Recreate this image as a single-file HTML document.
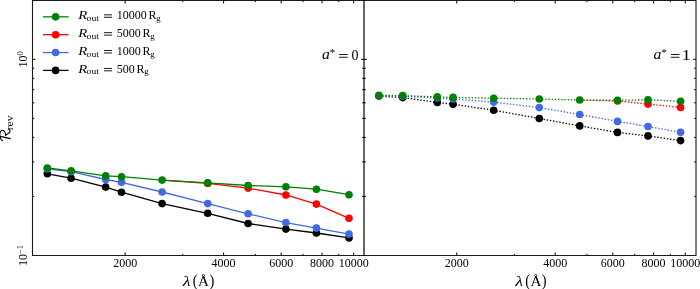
<!DOCTYPE html><html><head><meta charset="utf-8"><style>html,body{margin:0;padding:0;background:#fff;width:700px;height:289px;overflow:hidden}svg{display:block}text{font-family:"Liberation Serif",serif;fill:#000}</style></head><body>
<svg width="700" height="289" viewBox="0 0 700 289" style="will-change:transform">
<rect width="700" height="289" fill="#fff"/>
<polyline points="47.30,173.80 71.10,178.20 105.70,187.10 121.50,192.20 162.10,203.60 207.70,213.30 248.10,223.50 285.90,229.10 316.40,233.00 349.00,237.90" fill="none" stroke="#000000" stroke-width="1.3"/>
<circle cx="47.30" cy="173.80" r="3.8" fill="#000000"/>
<circle cx="71.10" cy="178.20" r="3.8" fill="#000000"/>
<circle cx="105.70" cy="187.10" r="3.8" fill="#000000"/>
<circle cx="121.50" cy="192.20" r="3.8" fill="#000000"/>
<circle cx="162.10" cy="203.60" r="3.8" fill="#000000"/>
<circle cx="207.70" cy="213.30" r="3.8" fill="#000000"/>
<circle cx="248.10" cy="223.50" r="3.8" fill="#000000"/>
<circle cx="285.90" cy="229.10" r="3.8" fill="#000000"/>
<circle cx="316.40" cy="233.00" r="3.8" fill="#000000"/>
<circle cx="349.00" cy="237.90" r="3.8" fill="#000000"/>
<polyline points="47.30,168.90 71.10,171.70 105.70,179.50 121.50,182.30 162.10,192.00 207.70,203.60 248.10,213.80 285.90,222.60 316.40,228.10 349.00,234.10" fill="none" stroke="#4169e1" stroke-width="1.3"/>
<circle cx="47.30" cy="168.90" r="3.8" fill="#4169e1"/>
<circle cx="71.10" cy="171.70" r="3.8" fill="#4169e1"/>
<circle cx="105.70" cy="179.50" r="3.8" fill="#4169e1"/>
<circle cx="121.50" cy="182.30" r="3.8" fill="#4169e1"/>
<circle cx="162.10" cy="192.00" r="3.8" fill="#4169e1"/>
<circle cx="207.70" cy="203.60" r="3.8" fill="#4169e1"/>
<circle cx="248.10" cy="213.80" r="3.8" fill="#4169e1"/>
<circle cx="285.90" cy="222.60" r="3.8" fill="#4169e1"/>
<circle cx="316.40" cy="228.10" r="3.8" fill="#4169e1"/>
<circle cx="349.00" cy="234.10" r="3.8" fill="#4169e1"/>
<polyline points="162.10,180.20 207.70,183.40 248.10,188.10 285.90,195.00 316.40,204.10 349.00,218.30" fill="none" stroke="#ff0000" stroke-width="1.3"/>
<circle cx="207.70" cy="183.40" r="3.8" fill="#ff0000"/>
<circle cx="248.10" cy="188.10" r="3.8" fill="#ff0000"/>
<circle cx="285.90" cy="195.00" r="3.8" fill="#ff0000"/>
<circle cx="316.40" cy="204.10" r="3.8" fill="#ff0000"/>
<circle cx="349.00" cy="218.30" r="3.8" fill="#ff0000"/>
<polyline points="47.30,168.00 71.10,170.80 105.70,175.90 121.50,176.70 162.10,180.10 207.70,182.80 248.10,185.50 285.90,186.80 316.40,189.20 349.00,194.70" fill="none" stroke="#008000" stroke-width="1.3"/>
<circle cx="47.30" cy="168.00" r="3.8" fill="#008000"/>
<circle cx="71.10" cy="170.80" r="3.8" fill="#008000"/>
<circle cx="105.70" cy="175.90" r="3.8" fill="#008000"/>
<circle cx="121.50" cy="176.70" r="3.8" fill="#008000"/>
<circle cx="162.10" cy="180.10" r="3.8" fill="#008000"/>
<circle cx="207.70" cy="182.80" r="3.8" fill="#008000"/>
<circle cx="248.10" cy="185.50" r="3.8" fill="#008000"/>
<circle cx="285.90" cy="186.80" r="3.8" fill="#008000"/>
<circle cx="316.40" cy="189.20" r="3.8" fill="#008000"/>
<circle cx="349.00" cy="194.70" r="3.8" fill="#008000"/>
<polyline points="378.90,96.00 402.70,97.60 437.30,102.40 453.10,104.20 493.70,110.20 539.30,118.50 579.70,125.90 617.50,132.40 648.00,135.90 680.60,140.60" fill="none" stroke="#000000" stroke-width="1.3" stroke-dasharray="1.4 1.8"/>
<circle cx="378.90" cy="96.00" r="3.8" fill="#000000"/>
<circle cx="402.70" cy="97.60" r="3.8" fill="#000000"/>
<circle cx="437.30" cy="102.40" r="3.8" fill="#000000"/>
<circle cx="453.10" cy="104.20" r="3.8" fill="#000000"/>
<circle cx="493.70" cy="110.20" r="3.8" fill="#000000"/>
<circle cx="539.30" cy="118.50" r="3.8" fill="#000000"/>
<circle cx="579.70" cy="125.90" r="3.8" fill="#000000"/>
<circle cx="617.50" cy="132.40" r="3.8" fill="#000000"/>
<circle cx="648.00" cy="135.90" r="3.8" fill="#000000"/>
<circle cx="680.60" cy="140.60" r="3.8" fill="#000000"/>
<polyline points="378.90,95.70 402.70,96.30 437.30,98.00 453.10,99.00 493.70,102.10 539.30,107.60 579.70,114.50 617.50,121.40 648.00,126.50 680.60,132.30" fill="none" stroke="#4169e1" stroke-width="1.3" stroke-dasharray="1.4 1.8"/>
<circle cx="378.90" cy="95.70" r="3.8" fill="#4169e1"/>
<circle cx="402.70" cy="96.30" r="3.8" fill="#4169e1"/>
<circle cx="437.30" cy="98.00" r="3.8" fill="#4169e1"/>
<circle cx="453.10" cy="99.00" r="3.8" fill="#4169e1"/>
<circle cx="493.70" cy="102.10" r="3.8" fill="#4169e1"/>
<circle cx="539.30" cy="107.60" r="3.8" fill="#4169e1"/>
<circle cx="579.70" cy="114.50" r="3.8" fill="#4169e1"/>
<circle cx="617.50" cy="121.40" r="3.8" fill="#4169e1"/>
<circle cx="648.00" cy="126.50" r="3.8" fill="#4169e1"/>
<circle cx="680.60" cy="132.30" r="3.8" fill="#4169e1"/>
<polyline points="579.70,100.00 617.50,101.00 648.00,104.10 680.60,107.40" fill="none" stroke="#ff0000" stroke-width="1.3" stroke-dasharray="1.4 1.8"/>
<circle cx="617.50" cy="101.00" r="3.8" fill="#ff0000"/>
<circle cx="648.00" cy="104.10" r="3.8" fill="#ff0000"/>
<circle cx="680.60" cy="107.40" r="3.8" fill="#ff0000"/>
<polyline points="378.90,95.40 402.70,95.60 437.30,96.90 453.10,97.40 493.70,98.20 539.30,99.00 579.70,100.00 617.50,100.20 648.00,99.90 680.60,101.20" fill="none" stroke="#008000" stroke-width="1.3" stroke-dasharray="1.4 1.8"/>
<circle cx="378.90" cy="95.40" r="3.8" fill="#008000"/>
<circle cx="402.70" cy="95.60" r="3.8" fill="#008000"/>
<circle cx="437.30" cy="96.90" r="3.8" fill="#008000"/>
<circle cx="453.10" cy="97.40" r="3.8" fill="#008000"/>
<circle cx="493.70" cy="98.20" r="3.8" fill="#008000"/>
<circle cx="539.30" cy="99.00" r="3.8" fill="#008000"/>
<circle cx="579.70" cy="100.00" r="3.8" fill="#008000"/>
<circle cx="617.50" cy="100.20" r="3.8" fill="#008000"/>
<circle cx="648.00" cy="99.90" r="3.8" fill="#008000"/>
<circle cx="680.60" cy="101.20" r="3.8" fill="#008000"/>
<path d="M125.15 255.50V252.50M125.15 0.50V3.50M182.73 255.50V253.90M182.73 0.50V2.10M223.59 255.50V252.50M223.59 0.50V3.50M255.28 255.50V253.90M255.28 0.50V2.10M281.17 255.50V252.50M281.17 0.50V3.50M303.06 255.50V253.90M303.06 0.50V2.10M322.02 255.50V252.50M322.02 0.50V3.50M338.75 255.50V253.90M338.75 0.50V2.10M353.71 255.50V252.50M353.71 0.50V3.50M32.50 196.44H34.30M364.00 196.44H362.20M32.50 161.89H34.30M364.00 161.89H362.20M32.50 137.38H34.30M364.00 137.38H362.20M32.50 118.36H34.30M364.00 118.36H362.20M32.50 102.83H34.30M364.00 102.83H362.20M32.50 89.69H34.30M364.00 89.69H362.20M32.50 78.31H34.30M364.00 78.31H362.20M32.50 68.28H34.30M364.00 68.28H362.20M32.50 59.30H35.50M364.00 59.30H361.00M456.75 255.50V252.50M456.75 0.50V3.50M514.33 255.50V253.90M514.33 0.50V2.10M555.19 255.50V252.50M555.19 0.50V3.50M586.88 255.50V253.90M586.88 0.50V2.10M612.77 255.50V252.50M612.77 0.50V3.50M634.66 255.50V253.90M634.66 0.50V2.10M653.62 255.50V252.50M653.62 0.50V3.50M670.35 255.50V253.90M670.35 0.50V2.10M685.31 255.50V252.50M685.31 0.50V3.50M364.00 196.44H365.80M696.00 196.44H694.20M364.00 161.89H365.80M696.00 161.89H694.20M364.00 137.38H365.80M696.00 137.38H694.20M364.00 118.36H365.80M696.00 118.36H694.20M364.00 102.83H365.80M696.00 102.83H694.20M364.00 89.69H365.80M696.00 89.69H694.20M364.00 78.31H365.80M696.00 78.31H694.20M364.00 68.28H365.80M696.00 68.28H694.20M364.00 59.30H367.00M696.00 59.30H693.00" stroke="#000" stroke-width="1" fill="none"/>
<path d="M32.5 0.5H696.0V255.5H32.5Z" stroke="#1a1a1a" stroke-width="1.1" fill="none"/>
<path d="M364.0 0.5V255.5" stroke="#000" stroke-width="1.2" fill="none"/>
<text x="125.15" y="267" font-size="12" text-anchor="middle">2000</text>
<text x="223.59" y="267" font-size="12" text-anchor="middle">4000</text>
<text x="281.17" y="267" font-size="12" text-anchor="middle">6000</text>
<text x="322.02" y="267" font-size="12" text-anchor="middle">8000</text>
<text x="353.71" y="267" font-size="12" text-anchor="middle">10000</text>
<text x="456.75" y="267" font-size="12" text-anchor="middle">2000</text>
<text x="555.19" y="267" font-size="12" text-anchor="middle">4000</text>
<text x="612.77" y="267" font-size="12" text-anchor="middle">6000</text>
<text x="653.62" y="267" font-size="12" text-anchor="middle">8000</text>
<text x="685.31" y="267" font-size="12" text-anchor="middle">10000</text>
<text transform="translate(27.2 59.3) rotate(-90)" font-size="12" text-anchor="middle">10<tspan font-size="8.5" dy="-4.5">0</tspan></text>
<text transform="translate(27.2 255.5) rotate(-90)" font-size="12" text-anchor="middle">10<tspan font-size="8.5" dy="-4.5">&#8722;1</tspan></text>
<text transform="translate(182.80 285.5) scale(1.25 1)" font-size="14.5" font-style="italic">&#955;</text>
<text transform="translate(192.80 285.8) scale(1 1.12)" font-size="14.5">(</text>
<text transform="translate(198.00 285.5) scale(1.05 1.05)" font-size="14.5">&#197;</text>
<text transform="translate(209.40 285.8) scale(1 1.12)" font-size="14.5">)</text>
<text transform="translate(515.20 285.5) scale(1.25 1)" font-size="14.5" font-style="italic">&#955;</text>
<text transform="translate(525.20 285.8) scale(1 1.12)" font-size="14.5">(</text>
<text transform="translate(530.40 285.5) scale(1.05 1.05)" font-size="14.5">&#197;</text>
<text transform="translate(541.80 285.8) scale(1 1.12)" font-size="14.5">)</text>
<g transform="translate(10.2 142.3) rotate(-90) scale(14.6)" fill="none" stroke="#000" stroke-linecap="round"><path d="M0.41 -0.69 C0.36 -0.45 0.30 -0.20 0.25 0.0" stroke-width="0.08"/><path d="M0.11 -0.52 C0.16 -0.62 0.28 -0.70 0.45 -0.71 C0.65 -0.72 0.84 -0.66 0.82 -0.53 C0.80 -0.40 0.65 -0.32 0.48 -0.31" stroke-width="0.075"/><path d="M0.48 -0.31 C0.58 -0.25 0.60 -0.05 0.70 -0.02 C0.80 0.01 0.88 -0.04 0.92 -0.10" stroke-width="0.08"/></g>
<text transform="translate(12.6 130.2) rotate(-90)" font-size="11" textLength="14.6" lengthAdjust="spacingAndGlyphs">rev</text>
<text transform="translate(322.00 59.3) scale(1.12 1)" font-size="14" font-style="italic">a</text><text x="329.70" y="56.4" font-size="11">*</text><rect x="339.10" y="54.1" width="8.6" height="0.9" fill="#000"/><rect x="339.10" y="56.8" width="8.6" height="0.9" fill="#000"/><text x="351.60" y="59.6" font-size="14">0</text>
<text transform="translate(653.60 59.3) scale(1.12 1)" font-size="14" font-style="italic">a</text><text x="661.30" y="56.4" font-size="11">*</text><rect x="670.90" y="54.1" width="8.6" height="0.9" fill="#000"/><rect x="670.90" y="56.8" width="8.6" height="0.9" fill="#000"/><text transform="translate(681.60 59.6) scale(1.35 1)" font-size="14">1</text>
<line x1="42.9" y1="16.85" x2="68.6" y2="16.85" stroke="#008000" stroke-width="1.3"/>
<circle cx="55.6" cy="16.85" r="3.8" fill="#008000"/>
<text x="78.3" y="19.00" font-size="12.5" font-style="italic" textLength="9" lengthAdjust="spacingAndGlyphs">R</text>
<text x="86.6" y="20.90" font-size="8.7" textLength="12.3" lengthAdjust="spacingAndGlyphs">out</text>
<rect x="104" y="14.40" width="8" height="0.9" fill="#000"/>
<rect x="104" y="16.80" width="8" height="0.9" fill="#000"/>
<text x="116.8" y="19.00" font-size="12">10000</text>
<text x="148.60" y="19.00" font-size="12">R</text>
<text x="156.20" y="20.90" font-size="8.7">g</text>
<line x1="42.9" y1="34.70" x2="68.6" y2="34.70" stroke="#ff0000" stroke-width="1.3"/>
<circle cx="55.6" cy="34.70" r="3.8" fill="#ff0000"/>
<text x="78.3" y="36.85" font-size="12.5" font-style="italic" textLength="9" lengthAdjust="spacingAndGlyphs">R</text>
<text x="86.6" y="38.75" font-size="8.7" textLength="12.3" lengthAdjust="spacingAndGlyphs">out</text>
<rect x="104" y="32.25" width="8" height="0.9" fill="#000"/>
<rect x="104" y="34.65" width="8" height="0.9" fill="#000"/>
<text x="116.8" y="36.85" font-size="12">5000</text>
<text x="142.60" y="36.85" font-size="12">R</text>
<text x="150.20" y="38.75" font-size="8.7">g</text>
<line x1="42.9" y1="52.55" x2="68.6" y2="52.55" stroke="#4169e1" stroke-width="1.3"/>
<circle cx="55.6" cy="52.55" r="3.8" fill="#4169e1"/>
<text x="78.3" y="54.70" font-size="12.5" font-style="italic" textLength="9" lengthAdjust="spacingAndGlyphs">R</text>
<text x="86.6" y="56.60" font-size="8.7" textLength="12.3" lengthAdjust="spacingAndGlyphs">out</text>
<rect x="104" y="50.10" width="8" height="0.9" fill="#000"/>
<rect x="104" y="52.50" width="8" height="0.9" fill="#000"/>
<text x="116.8" y="54.70" font-size="12">1000</text>
<text x="142.60" y="54.70" font-size="12">R</text>
<text x="150.20" y="56.60" font-size="8.7">g</text>
<line x1="42.9" y1="70.40" x2="68.6" y2="70.40" stroke="#000000" stroke-width="1.3"/>
<circle cx="55.6" cy="70.40" r="3.8" fill="#000000"/>
<text x="78.3" y="72.55" font-size="12.5" font-style="italic" textLength="9" lengthAdjust="spacingAndGlyphs">R</text>
<text x="86.6" y="74.45" font-size="8.7" textLength="12.3" lengthAdjust="spacingAndGlyphs">out</text>
<rect x="104" y="67.95" width="8" height="0.9" fill="#000"/>
<rect x="104" y="70.35" width="8" height="0.9" fill="#000"/>
<text x="116.8" y="72.55" font-size="12">500</text>
<text x="136.60" y="72.55" font-size="12">R</text>
<text x="144.20" y="74.45" font-size="8.7">g</text>
</svg></body></html>
